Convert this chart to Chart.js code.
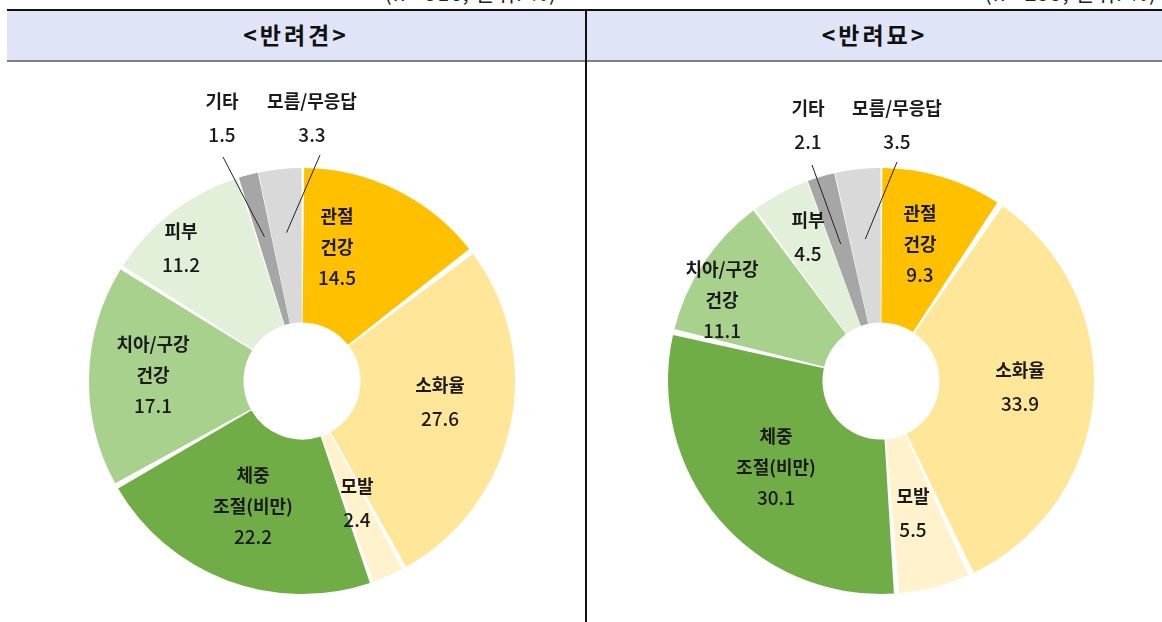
<!DOCTYPE html>
<html><head><meta charset="utf-8">
<script src="https://cdn.jsdelivr.net/npm/chart.js@4.4.1/dist/chart.umd.min.js"></script>
<style>
html,body{margin:0;padding:0;width:1162px;height:622px;overflow:hidden;background:#fff;font-family:'Noto Sans CJK KR','Noto Sans',sans-serif;}
#band{position:absolute;left:7px;top:9px;width:1155px;height:49px;background:#dfe5f7;border-top:2px solid #111;border-bottom:2px solid #7f7f7f;}
#divider{position:absolute;left:585px;top:10px;width:2px;height:612px;background:#111;}
.hdr{position:absolute;top:11px;height:47px;line-height:47px;text-align:center;font-size:23px;font-weight:bold;color:#111;letter-spacing:3px;}
.note{position:absolute;top:-23px;font-size:21px;color:#222;white-space:nowrap;letter-spacing:1px;}
.cv{position:absolute;}
</style></head>
<body>
<div class="note" style="right:605px">(n= 516, 단위: %)</div>
<div class="note" style="right:5px">(n= 255, 단위: %)</div>
<div id="band"></div>
<div id="divider"></div>
<div class="hdr" style="left:7px;width:578px">&lt;반려견&gt;</div>
<div class="hdr" style="left:587px;width:575px">&lt;반려묘&gt;</div>
<div class="cv" style="left:42px;top:70px;width:520px;height:622px"><canvas id="c1"></canvas></div>
<div class="cv" style="left:621px;top:70px;width:520px;height:622px"><canvas id="c2"></canvas></div>
<script>
const categories = ['관절 건강','소화율','모발','체중 조절(비만)','치아/구강 건강','피부','기타','모름/무응답'];
const labelLines = [['관절','건강'],['소화율'],['모발'],['체중','조절(비만)'],['치아/구강','건강'],['피부'],['기타'],['모름/무응답']];
const dogValues = [14.5, 27.6, 2.4, 22.2, 17.1, 11.2, 1.5, 3.3];
const catValues = [9.3, 33.9, 5.5, 30.1, 11.1, 4.5, 2.1, 3.5];
const sliceColors = ['#FFC000','#FFE699','#FFF2CC','#70AD47','#A9D18E','#E2F0D9','#A6A6A6','#D9D9D9'];

// label block centres, relative to the chart centre (px)
const dogLabelPos = [[35,-134],[138,21],[55,122],[-49,125],[-149,-6],[-121,-133],[-80,-263],[10,-263]];
const catLabelPos = [[39,-137],[139,6],[32,132],[-105,86],[-159,-81],[-73,-144],[-73,-256],[16,-256]];
// leader line start (relative to centre) and end radius fraction along slice mid-angle
const dogLeaders = {6:{from:[-79,-224],r:0.71},7:{from:[18,-226],r:0.71}};
const catLeaders = {6:{from:[-69,-216],r:0.68},7:{from:[16,-219],r:0.68}};

function labelPlugin(pos, leaders){
  return {
    id:'lbl',
    afterDatasetsDraw(chart){
      const ctx = chart.ctx;
      const meta = chart.getDatasetMeta(0);
      const vals = chart.data.datasets[0].data;
      ctx.save();
      meta.data.forEach((arc,i)=>{
        const cx = arc.x, cy = arc.y;
        const L = leaders[i];
        if(L){
          const mid = (arc.startAngle+arc.endAngle)/2;
          const rr = arc.outerRadius*L.r;
          ctx.beginPath();
          ctx.strokeStyle='#222';ctx.lineWidth=1;
          ctx.moveTo(cx+L.from[0], cy+L.from[1]);
          ctx.lineTo(cx+Math.cos(mid)*rr, cy+Math.sin(mid)*rr);
          ctx.stroke();
        }
        const lines = labelLines[i].concat([vals[i].toFixed(1)]);
        const lh = (lines.length>2)?31:33;
        const x = cx+pos[i][0], y0 = cy+pos[i][1]-(lines.length-1)*lh/2;
        ctx.fillStyle='#1a1a1a';
        ctx.textAlign='center';ctx.textBaseline='middle';
        lines.forEach((t,k)=>{
          ctx.font = (k===lines.length-1?'500 19px ':'bold 18px ')+'"Noto Sans CJK KR", sans-serif';
          ctx.fillText(t, x, y0+k*lh);
        });
      });
      ctx.restore();
    }
  };
}

function makeChart(id, values, pos, leaders){
  new Chart(document.getElementById(id), {
    type:'doughnut',
    data:{labels:categories, datasets:[{data:values, backgroundColor:sliceColors, borderWidth:0, spacing:6}]},
    options:{
      responsive:true, maintainAspectRatio:false, animation:false,
      radius:210, cutout:68, rotation:0,
      layout:{padding:0},
      plugins:{legend:{display:false}, tooltip:{enabled:false}}
    },
    plugins:[labelPlugin(pos, leaders)]
  });
}
makeChart('c1', dogValues, dogLabelPos, dogLeaders);
makeChart('c2', catValues, catLabelPos, catLeaders);
</script>
</body></html>
